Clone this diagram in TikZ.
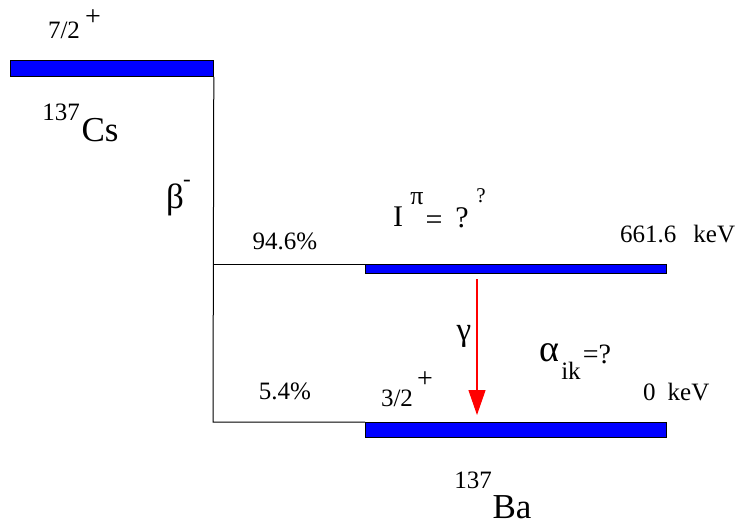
\documentclass[tikz,border=0pt]{standalone}
\usepackage{fontspec}
\setmainfont{Liberation Serif}
\usetikzlibrary{arrows.meta}
\begin{document}
\begin{tikzpicture}[x=1pt,y=-1pt,
  level/.style={draw=black, line width=0.8pt, fill=blue, inner sep=0pt, anchor=north west},
  conn/.style={draw=black, line width=1pt},
  lbl/.style={inner sep=0pt, font=\fontsize{25}{28}\selectfont},
  sup/.style={inner sep=0pt, font=\fontsize{23}{26}\selectfont},
  plus/.style={inner sep=0pt, font=\fontsize{28}{30}\selectfont},
  mid/.style={inner sep=0pt, font=\fontsize{30}{34}\selectfont},
  big/.style={inner sep=0pt, font=\fontsize{35}{40}\selectfont},
  gam/.style={draw=red, line width=1.2pt, -{Triangle[length=25pt,width=17pt]}}]
\useasboundingbox (0,0) rectangle (742,525);
% levels
\node[level, minimum width=203pt, minimum height=16pt] (cs) at (10,60) {};
\node[level, minimum width=301pt, minimum height=9pt] (exc) at (365,264) {};
\node[level, minimum width=301pt, minimum height=15pt] (gnd) at (365,422) {};
% connectors
\coordinate (j1) at (213,264);
\coordinate (j2) at (213,422);
\draw[conn] (cs.south east) -- (j2) -- (gnd.north west);
\draw[conn] (j1) -- (exc.north west);
\coordinate (gs) at (477,279);
\coordinate (ge) at (477,415);
\draw[gam] (gs) -- (ge);
% labels
\node[lbl] (t72) at (64,30) {7/2};
\node[plus] (p72) at (93,18) {+};
\node[lbl] (a137) at (61,112) {137};
\node[big] (cstxt) at (100,130) {Cs};
\node[inner sep=0pt, font=\fontsize{35}{40}\selectfont] (beta) at (175,200) {β};
\node[sup] (bminus) at (187,183) {-};
\node[lbl] (b946) at (285,241) {94.6\%};
\node[mid] (ipi) at (398,217) {I};
\node[inner sep=0pt, font=\fontsize{26}{30}\selectfont] (pi) at (417,199) {π};
\node[mid] (eq) at (434,223) {=};
\node[mid] (qm) at (462,218) {?};
\node[inner sep=0pt, font=\fontsize{21}{24}\selectfont] (qs) at (481,196) {?};
\node[lbl, anchor=base west] (e661) at (620,242) {661.6\hspace{17pt}keV};
\node[inner sep=0pt, font=\fontsize{33}{38}\selectfont] (gamma) at (464,336) {γ};
\node[inner sep=0pt, font=\fontsize{38}{42}\selectfont] (alpha) at (549,353) {α};
\node[lbl] (ik) at (571,371) {ik};
\node[inner sep=0pt, font=\fontsize{28}{32}\selectfont] (eqq) at (597,354) {=?};
\node[lbl, anchor=base west] (e0) at (643,400) {0\hspace{12pt}keV};
\node[lbl] (b54) at (285,391) {5.4\%};
\node[lbl] (t32) at (397,398) {3/2};
\node[plus] (p32) at (425,380) {+};
\node[lbl] (b137) at (473,480) {137};
\node[big] (batxt) at (512,507) {Ba};
\end{tikzpicture}
\end{document}
